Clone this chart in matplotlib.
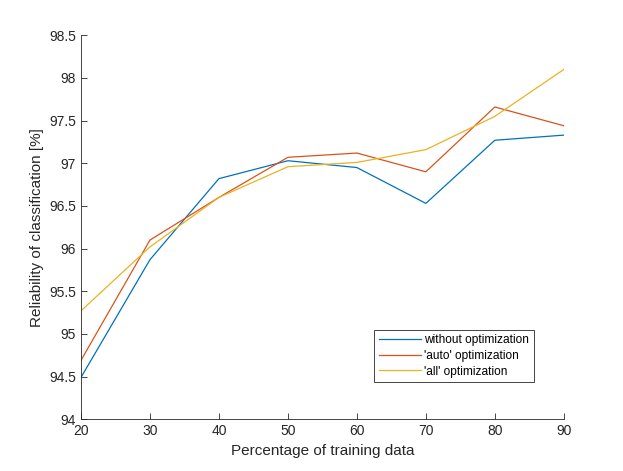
import matplotlib
matplotlib.use("Agg")
import matplotlib.pyplot as plt

pct = [20, 30, 40, 50, 60, 70, 80, 90]
without_opt = [94.49, 95.87, 96.82, 97.03, 96.95, 96.53, 97.27, 97.33]
auto_opt = [94.69, 96.10, 96.60, 97.07, 97.12, 96.90, 97.66, 97.44]
all_opt = [95.27, 96.02, 96.60, 96.96, 97.01, 97.16, 97.55, 98.10]
labels = ["without optimization", "'auto' optimization", "'all' optimization"]
colors = ["#0072BD", "#D95319", "#EDB120"]

plt.rcParams['font.family'] = ['Liberation Sans', 'DejaVu Sans']
fig = plt.figure(figsize=(6.23, 4.71), dpi=100)
ax = fig.add_axes([0.13, 0.11, 0.775, 0.815])
for ys, c, l in zip([without_opt, auto_opt, all_opt], colors, labels):
    ax.plot(pct, ys, color=c, lw=0.9, label=l)

ax.set_xlim(20, 90)
ax.set_ylim(94, 98.5)
ax.set_xticks(pct)
ax.set_yticks([94, 94.5, 95, 95.5, 96, 96.5, 97, 97.5, 98, 98.5])
ax.set_yticklabels(["94", "94.5", "95", "95.5", "96", "96.5", "97", "97.5", "98", "98.5"])
gray = "#262626"
for s in ['top', 'right']:
    ax.spines[s].set_visible(False)
for s in ['left', 'bottom']:
    ax.spines[s].set_color(gray)
    ax.spines[s].set_linewidth(0.6)
ax.tick_params(direction='in', length=4, width=0.6, colors=gray, labelsize=10)
ax.set_xlabel("Percentage of training data", fontsize=11, color=gray)
ax.set_ylabel("Reliability of classification [%]", fontsize=11, color=gray)

leg = ax.legend(loc='lower left', bbox_to_anchor=(0.607, 0.096), fontsize=8.6,
                frameon=True, fancybox=False, framealpha=1, edgecolor=gray,
                handlelength=3.5, handletextpad=0.3, borderpad=0.4, labelspacing=0.3,
                borderaxespad=0)
leg.get_frame().set_linewidth(0.6)

fig.savefig("out.png", dpi=100)
